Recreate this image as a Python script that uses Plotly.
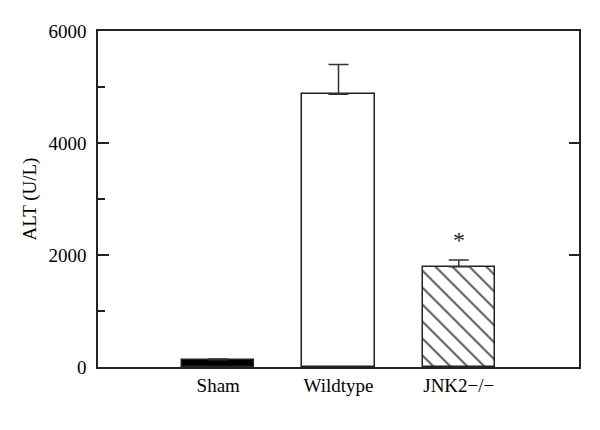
import plotly.graph_objects as go

categories = ["Sham", "Wildtype", "JNK2\u2212/\u2212"]
alt_mean = [130, 4870, 1790]
alt_err = [15, 530, 120]
significance = ["", "", "*"]
star_y = 2270

xpos = [0, 1, 2]
fig = go.Figure()

fill_colors = ["black", "white", "white"]
patterns = ["", "", "\\"]

fig.add_trace(go.Bar(
    x=xpos, y=alt_mean, width=0.6,
    marker=dict(
        color=fill_colors,
        line=dict(color="#222", width=1.5),
        pattern=dict(shape=patterns, fgcolor="black", bgcolor="white", fgopacity=1,
                     size=12, solidity=0.15),
    ),
    error_y=dict(type="data", array=alt_err, arrayminus=[0, 0, 0], symmetric=False,
                 color="#333", thickness=1.5, width=10),
    showlegend=False,
))

# invisible trace for right axis
fig.add_trace(go.Scatter(x=[xpos[0]], y=[0], yaxis="y2", mode="markers",
                         marker=dict(opacity=0), showlegend=False, hoverinfo="skip"))

for xi, s in zip(xpos, significance):
    if s:
        fig.add_annotation(x=xi, y=star_y, text=s, showarrow=False,
                           font=dict(size=24, family="Liberation Serif", color="#222"),
                           yanchor="middle")

font = dict(family="Liberation Serif", size=19, color="black")
fig.update_layout(
    width=600, height=430,
    margin=dict(l=90, r=29, t=23, b=71, autoexpand=False),
    plot_bgcolor="white", paper_bgcolor="white",
    font=font,
    bargap=0,
    xaxis=dict(range=[-1, 3], tickvals=xpos, ticktext=categories, ticks="",
               showline=True, linecolor="#222", linewidth=1.5, mirror=True,
               showgrid=False, zeroline=False, ticklabelstandoff=0, fixedrange=True,
               automargin=False),
    yaxis=dict(range=[0, 6000], tickvals=[0, 2000, 4000, 6000], ticks="inside",
               ticklen=11, tickwidth=1.5, tickcolor="#222",
               minor=dict(tickvals=[1000, 3000, 5000], ticks="inside", ticklen=7,
                          tickwidth=1.5, tickcolor="#222"),
               showline=True, linecolor="#222", linewidth=1.5,
               showgrid=False, zeroline=False, automargin=False,
               title=dict(text="ALT (U/L)", standoff=7, font=font),
               ticklabelstandoff=6),
    yaxis2=dict(range=[0, 6000], overlaying="y", side="right", tickvals=[2000, 4000],
                ticks="inside", ticklen=10, tickwidth=1.5, tickcolor="#222",
                showticklabels=False, showline=True, linecolor="#222", linewidth=1.5,
                showgrid=False, zeroline=False, automargin=False),
)

fig.write_html("out.html")
